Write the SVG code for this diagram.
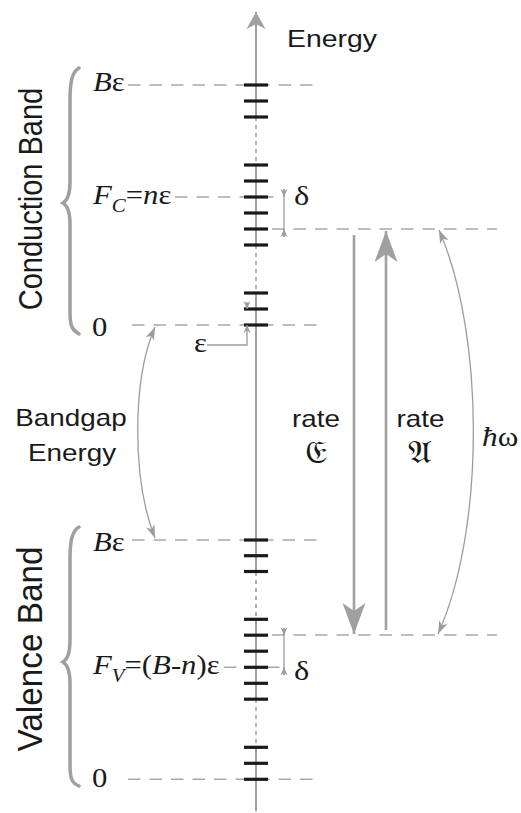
<svg xmlns="http://www.w3.org/2000/svg" width="521" height="813" viewBox="0 0 521 813">
<style>
.sans{font-family:"Liberation Sans",Arial,sans-serif;fill:#1a1a1a}
.math{font-family:"Liberation Serif","Times New Roman",serif;fill:#1a1a1a}
.frak{font-family:"DejaVu Serif","DejaVu Sans","Noto Sans",serif;fill:#1a1a1a}
.it{font-style:italic}
.tick{stroke:#1a1a1a;stroke-width:3.2}
.axis{stroke:#a0a0a0;stroke-width:2;fill:none}
.axisdash{stroke:#a0a0a0;stroke-width:1.6;stroke-dasharray:4 4;fill:none}
.lvl{stroke:#a8a8a8;stroke-width:1.4;stroke-dasharray:12.5 9;fill:none}
.thin{stroke:#9c9c9c;stroke-width:1.3;fill:none}
.thick{stroke:#a0a0a0;stroke-width:2.6;fill:none}
.brace{stroke:#a0a0a0;stroke-width:3.5;fill:none;stroke-linecap:round}
</style>
<defs>
<marker id="axisHead" markerUnits="userSpaceOnUse" markerWidth="18" markerHeight="20" refX="17" refY="10" orient="auto"><path d="M0,0.5 L17,10 L0,19.5 L5,10 Z" fill="#a0a0a0"/></marker>
<marker id="bigHead" markerUnits="userSpaceOnUse" markerWidth="32" markerHeight="24" refX="31" refY="12" orient="auto"><path d="M0,0.5 L31,12 L0,23.5 L8,12 Z" fill="#a0a0a0"/></marker>
<marker id="smallHead" markerUnits="userSpaceOnUse" markerWidth="9" markerHeight="8" refX="8" refY="4" orient="auto"><path d="M0,0.5 L8,4 L0,7.5 L2.5,4 Z" fill="#9c9c9c"/></marker>
<marker id="curveHead" markerUnits="userSpaceOnUse" markerWidth="14" markerHeight="10" refX="13" refY="5" orient="auto-start-reverse"><path d="M0,0.5 L13,5 L0,9.5 L3.5,5 Z" fill="#9c9c9c"/></marker>
</defs>

<g id="axis">
<path class="axis" d="M256,117 V12" marker-end="url(#axisHead)"/>
<path class="axisdash" d="M256,117 V165"/>
<path class="axis" d="M256,165 V245"/>
<path class="axisdash" d="M256,245 V293"/>
<path class="axis" d="M256,293 V572"/>
<path class="axisdash" d="M256,572 V619"/>
<path class="axis" d="M256,619 V699"/>
<path class="axisdash" d="M256,699 V747"/>
<path class="axis" d="M256,747 V811"/>
</g>

<g id="level-lines">
<path class="lvl" d="M128,85 H320"/>
<path class="lvl" d="M175,197 H278"/>
<path class="lvl" d="M272,229 H497"/>
<path class="lvl" d="M132,325 H325"/>
<path class="lvl" d="M132,540 H325"/>
<path class="lvl" d="M272,635 H497"/>
<path class="lvl" d="M224,667.3 H280"/>
<path class="lvl" d="M128,779.3 H320"/>
</g>

<g id="conduction-levels">
<line class="tick" x1="244" x2="268" y1="85" y2="85"/>
<line class="tick" x1="244" x2="268" y1="101" y2="101"/>
<line class="tick" x1="244" x2="268" y1="117" y2="117"/>
<line class="tick" x1="244" x2="268" y1="165" y2="165"/>
<line class="tick" x1="244" x2="268" y1="181" y2="181"/>
<line class="tick" x1="244" x2="268" y1="197" y2="197"/>
<line class="tick" x1="244" x2="268" y1="213" y2="213"/>
<line class="tick" x1="244" x2="268" y1="229" y2="229"/>
<line class="tick" x1="244" x2="268" y1="245" y2="245"/>
<line class="tick" x1="244" x2="268" y1="293" y2="293"/>
<line class="tick" x1="244" x2="268" y1="309" y2="309"/>
<line class="tick" x1="244" x2="268" y1="325" y2="325"/>
</g>

<g id="valence-levels">
<line class="tick" x1="244" x2="268" y1="540" y2="540"/>
<line class="tick" x1="244" x2="268" y1="555.7" y2="555.7"/>
<line class="tick" x1="244" x2="268" y1="571.5" y2="571.5"/>
<line class="tick" x1="244" x2="268" y1="619.3" y2="619.3"/>
<line class="tick" x1="244" x2="268" y1="635.2" y2="635.2"/>
<line class="tick" x1="244" x2="268" y1="651.2" y2="651.2"/>
<line class="tick" x1="244" x2="268" y1="667.3" y2="667.3"/>
<line class="tick" x1="244" x2="268" y1="683.3" y2="683.3"/>
<line class="tick" x1="244" x2="268" y1="699.2" y2="699.2"/>
<line class="tick" x1="244" x2="268" y1="747.3" y2="747.3"/>
<line class="tick" x1="244" x2="268" y1="763.3" y2="763.3"/>
<line class="tick" x1="244" x2="268" y1="779.3" y2="779.3"/>
</g>

<g id="braces">
<path class="brace" d="M79,68 C72,72 70,82 70,100 L70,182 C70,194 68,200 63,203 C68,206 70,212 70,224 L70,312 C70,326 72,330 79,334"/>
<path class="brace" d="M79,527 C72,531 70,541 70,559 L70,640 C70,653 68,659 63,662 C68,665 70,671 70,683 L70,765 C70,779 72,783 79,786"/>
</g>

<g id="connectors">
<path class="thin" d="M284,189 V237"/>
<path class="thin" d="M284,189 V197" marker-end="url(#smallHead)"/>
<path class="thin" d="M284,237 V229" marker-end="url(#smallHead)"/>
<path class="thin" d="M284,628 V675"/>
<path class="thin" d="M284,628 V635.2" marker-end="url(#smallHead)"/>
<path class="thin" d="M284,675 V667.3" marker-end="url(#smallHead)"/>
<path class="thin" d="M207,345 H247 V325" marker-end="url(#smallHead)"/>
<path class="thin" d="M247,302 V309" marker-end="url(#smallHead)"/>
<path class="thin" d="M155,327 C132,380 132,480 155,538" marker-start="url(#curveHead)" marker-end="url(#curveHead)"/>
<path class="thin" d="M438,634 C485,530 485,335 439,230" marker-start="url(#curveHead)" marker-end="url(#curveHead)"/>
<path class="thick" d="M354,235 V634" marker-end="url(#bigHead)"/>
<path class="thick" d="M386,630 V231" marker-end="url(#bigHead)"/>
</g>

<g id="labels">
<g id="energy-axis-label"><text class="sans" font-size="24.5" transform="translate(287,47) scale(1.16,1)">Energy</text></g>
<g id="conduction-band-label"><text class="sans" font-size="29" text-anchor="middle" transform="translate(42,199) scale(1.16,1) rotate(-90)">Conduction Band</text></g>
<g id="valence-band-label"><text class="sans" font-size="29.5" text-anchor="middle" textLength="205" lengthAdjust="spacingAndGlyphs" transform="translate(42,649) scale(1.16,1) rotate(-90)">Valence Band</text></g>
<g id="bandgap-label"><text class="sans" font-size="24" text-anchor="middle" transform="translate(71,425.5) scale(1.16,1)">Bandgap</text>
<text class="sans" font-size="24" text-anchor="middle" transform="translate(72,460.5) scale(1.16,1)">Energy</text></g>
<g id="rate-e-label"><text class="sans" font-size="24" text-anchor="middle" transform="translate(316,427) scale(1.16,1)">rate</text>
<text class="frak" font-size="31" text-anchor="middle" transform="translate(316,463) scale(1.16,1)">𝔈</text></g>
<g id="rate-a-label"><text class="sans" font-size="24" text-anchor="middle" transform="translate(420.5,427) scale(1.16,1)">rate</text>
<text class="frak" font-size="31" text-anchor="middle" transform="translate(420.5,463) scale(1.16,1)">𝔄</text></g>
<g id="hbar-omega-label"><text class="math" font-size="27" transform="translate(482,446) scale(1.16,1)"><tspan class="it">ħ</tspan>ω</text></g>
<g id="cb-top-label"><text class="math" font-size="26.5" transform="translate(93,91) scale(1.16,1)"><tspan class="it">B</tspan>ε</text></g>
<g id="fc-label"><text class="math" font-size="26.5" transform="translate(93,203.5) scale(1.16,1)"><tspan class="it">F</tspan><tspan class="it" font-size="18" dy="8">C</tspan><tspan dy="-8">=</tspan><tspan class="it">n</tspan>ε</text></g>
<g id="cb-zero-label"><text class="math" font-size="26.5" transform="translate(92,336) scale(1.16,1)">0</text></g>
<g id="epsilon-label"><text class="math" font-size="26.5" transform="translate(194,352) scale(1.16,1)">ε</text></g>
<g id="delta-c-label"><text class="math" font-size="28" transform="translate(294,205) scale(1.16,1)">δ</text></g>
<g id="vb-top-label"><text class="math" font-size="26.5" transform="translate(93,550.5) scale(1.16,1)"><tspan class="it">B</tspan>ε</text></g>
<g id="fv-label"><text class="math" font-size="26.5" transform="translate(93,674) scale(1.16,1)"><tspan class="it">F</tspan><tspan class="it" font-size="18" dy="8">V</tspan><tspan dy="-8">=(</tspan><tspan class="it">B</tspan>-<tspan class="it">n</tspan>)ε</text></g>
<g id="delta-v-label"><text class="math" font-size="28" transform="translate(294,680) scale(1.16,1)">δ</text></g>
<g id="vb-zero-label"><text class="math" font-size="26.5" transform="translate(92,787) scale(1.16,1)">0</text></g>
</g>
</svg>
